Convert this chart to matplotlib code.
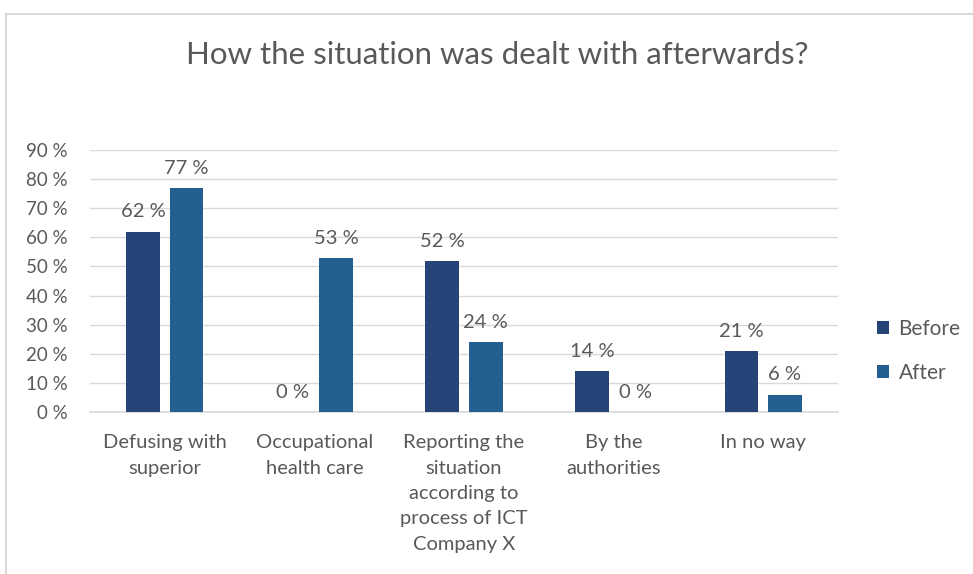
import matplotlib
matplotlib.use("Agg")
import matplotlib.pyplot as plt
from matplotlib.lines import Line2D
import numpy as np

categories = [
    "Defusing with\nsuperior",
    "Occupational\nhealth care",
    "Reporting the\nsituation\naccording to\nprocess of ICT\nCompany X",
    "By the\nauthorities",
    "In no way",
]
before = [62, 0, 52, 14, 21]
after = [77, 53, 24, 0, 6]
series_names = ["Before", "After"]
y_ticks = [0, 10, 20, 30, 40, 50, 60, 70, 80, 90]

plt.rcParams["font.family"] = ["Lato", "DejaVu Sans"]
text_color = "#595959"
c_before = "#264478"
c_after = "#255E91"

fig = plt.figure(figsize=(9.73, 5.74), dpi=100)
W, H = 973, 574
ax = fig.add_axes([90 / W, 1 - 412 / H, (838 - 90) / W, (412 - 150) / H])

x = np.arange(len(categories))
bw = 0.225
gap = 0.066
ax.bar(x - (bw + gap) / 2, before, bw, color=c_before, label=series_names[0], zorder=3)
ax.bar(x + (bw + gap) / 2, after, bw, color=c_after, label=series_names[1], zorder=3)

for xi, b, a in zip(x, before, after):
    ax.annotate(f"{b} %", (xi - (bw + gap) / 2, b), xytext=(0, 8), textcoords="offset points",
                ha="center", va="bottom", fontsize=14.5, color=text_color)
    ax.annotate(f"{a} %", (xi + (bw + gap) / 2, a), xytext=(0, 8), textcoords="offset points",
                ha="center", va="bottom", fontsize=14.5, color=text_color)

ax.set_xlim(-0.5, len(categories) - 0.5)
ax.set_ylim(0, 90)
ax.set_yticks(y_ticks)
ax.set_yticklabels([f"{t} %" for t in y_ticks], fontsize=13.5)
ax.set_xticks(x)
ax.set_xticklabels(categories, linespacing=1.6, fontsize=14.5)
ax.tick_params(axis="both", length=0, colors=text_color)
ax.tick_params(axis="x", pad=16)
ax.tick_params(axis="y", pad=16)
ax.grid(axis="y", color="#D9D9D9", linewidth=1, zorder=0)
for s in ["top", "right", "left"]:
    ax.spines[s].set_visible(False)
ax.spines["bottom"].set_color("#D9D9D9")
ax.spines["bottom"].set_linewidth(1.2)

fig.text(497 / W, 1 - 55 / H, "How the situation was dealt with afterwards?",
         ha="center", va="center", fontsize=22.5, color=text_color)

leg = fig.legend(loc="center left", bbox_to_anchor=(858 / W, 1 - 351 / H), frameon=False,
                 fontsize=15, handlelength=0.6, handleheight=0.6, labelspacing=1.15,
                 handletextpad=0.45)
for t in leg.get_texts():
    t.set_color(text_color)

# chart area border
fig.add_artist(Line2D([6 / W, 6 / W], [0, 1 - 14 / H], transform=fig.transFigure,
                      color="#D9D9D9", linewidth=1.5))
fig.add_artist(Line2D([6 / W, 1], [1 - 14 / H, 1 - 14 / H], transform=fig.transFigure,
                      color="#D9D9D9", linewidth=1.5))

fig.savefig("out.png", dpi=100)
